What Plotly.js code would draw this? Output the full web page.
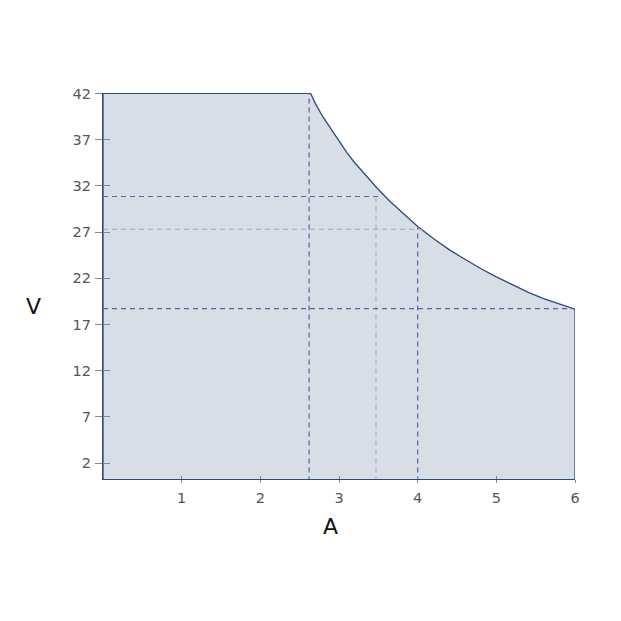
<!DOCTYPE html>
<html>
<head>
<meta charset="utf-8">
<script src="https://cdn.plot.ly/plotly-3.0.1.min.js"></script>
<style>html,body{margin:0;padding:0;background:#fff;}#chart{width:621px;height:621px;}</style>
</head>
<body>
<div id="chart"></div>
<script>
// Operating envelope (current A vs voltage V)
const curveA = [0, 0, 2.64, 2.7, 2.8, 2.9, 3.0, 3.1, 3.2, 3.35, 3.5, 3.65, 3.8, 4.0, 4.2, 4.4, 4.6, 4.8, 5.0, 5.2, 5.4, 5.6, 5.8, 6.0, 6.0];
const curveV = [0, 42, 42, 40.9, 39.4, 38.1, 36.8, 35.6, 34.5, 33.0, 31.6, 30.3, 29.1, 27.6, 26.3, 25.1, 24.05, 23.05, 22.15, 21.3, 20.5, 19.8, 19.2, 18.65, 0];

// Dashed reference lines (dark)
const refDarkA = [2.62, 2.62, null, 0, 3.52, null, 0, 6.0, null, 4.0, 4.0];
const refDarkV = [0, 42, null, 30.85, 30.85, null, 18.72, 18.72, null, 0, 27.5];
// Dashed reference lines (light)
const refLightA = [3.47, 3.47, null, 0, 4.1];
const refLightV = [0, 30.85, null, 27.3, 27.3];

// Tick labels
const xTicks = [1, 2, 3, 4, 5, 6];
const yTicks = [2, 7, 12, 17, 22, 27, 32, 37, 42];
const xTitle = "A";
const yTitle = "V";

const navy = "#2c4a7c";
const tickFont = {family: "DejaVu Sans", size: 14.5, color: "#555"};

const traces = [
  {x: curveA, y: curveV, mode: "lines", fill: "toself", fillcolor: "#d8dee6",
   line: {color: navy, width: 1.3}, hoverinfo: "skip", showlegend: false},
  {x: refLightA, y: refLightV, mode: "lines", line: {color: "#a3a5d2", width: 1, dash: "5px,4px"},
   showlegend: false, hoverinfo: "skip"},
  {x: refDarkA, y: refDarkV, mode: "lines", line: {color: "#5c60ad", width: 1.2, dash: "5px,4px"},
   showlegend: false, hoverinfo: "skip"},
  {x: [], y: [], xaxis: "x2", yaxis: "y2", showlegend: false}
];

const layout = {
  width: 621, height: 621,
  margin: {l: 103, r: 46, t: 93, b: 142},
  paper_bgcolor: "#fff", plot_bgcolor: "#fff",
  showlegend: false,
  xaxis: {range: [0, 6], tickvals: xTicks, ticks: "inside", ticklen: 3, tickcolor: "#888",
          showgrid: false, zeroline: false, showline: true, linecolor: navy, linewidth: 1.2,
          tickfont: tickFont, fixedrange: true, ticklabelstandoff: 5},
  yaxis: {range: [0.27, 42.05], tickvals: yTicks, ticks: "inside", ticklen: 7, tickcolor: "#888",
          showgrid: false, zeroline: false, showline: true, linecolor: navy, linewidth: 1.2,
          tickfont: tickFont, fixedrange: true, ticklabelstandoff: 8},
  xaxis2: {overlaying: "x", matches: "x", anchor: "y2", side: "bottom", tickvals: xTicks,
           ticks: "outside", ticklen: 3, tickcolor: "#888", showticklabels: false,
           showgrid: false, zeroline: false, showline: false},
  yaxis2: {overlaying: "y", matches: "y", anchor: "x2", side: "left", tickvals: yTicks,
           ticks: "outside", ticklen: 7, tickcolor: "#888", showticklabels: false,
           showgrid: false, zeroline: false, showline: false},
  annotations: [
    {text: yTitle, xref: "paper", yref: "paper", x: -0.147, y: 0.448, showarrow: false,
     font: {family: "DejaVu Sans", size: 22, color: "#111"}, xanchor: "center", yanchor: "middle"},
    {text: xTitle, xref: "paper", yref: "paper", x: 0.481, y: -0.124, showarrow: false,
     font: {family: "DejaVu Sans", size: 22, color: "#111"}, xanchor: "center", yanchor: "middle"}
  ]
};

Plotly.newPlot("chart", traces, layout, {displayModeBar: false, staticPlot: true});
</script>
</body>
</html>
